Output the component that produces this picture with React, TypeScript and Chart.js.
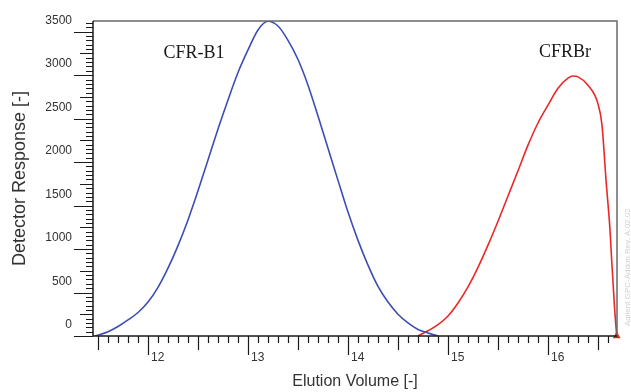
import React, { useEffect, useRef } from 'react';
import { Chart, registerables } from 'chart.js';

Chart.register(...registerables);

// ---- axis ranges & tick labels ----
const X_MIN = 11.45;
const X_MAX = 16.69;
const Y_MIN = 0;
const Y_MAX = 3623;
const xTickLabels = [12, 13, 14, 15, 16];
const yTickLabels = [0, 500, 1000, 1500, 2000, 2500, 3000, 3500];

// ---- series: CFR-B1 (blue) ----
const blueX = [11.47, 11.6, 11.7, 11.8, 11.9, 12.0, 12.1, 12.2, 12.3, 12.4, 12.5, 12.6, 12.7, 12.8, 12.9, 13.0, 13.1, 13.2, 13.3, 13.4, 13.5, 13.6, 13.7, 13.8, 13.9, 14.0, 14.1, 14.2, 14.3, 14.4, 14.5, 14.6, 14.7, 14.8, 14.9];
const blueY = [0, 50, 110, 185, 270, 390, 560, 780, 1040, 1335, 1670, 2025, 2380, 2715, 3030, 3290, 3520, 3620, 3565, 3400, 3180, 2885, 2530, 2160, 1790, 1425, 1100, 815, 570, 390, 250, 150, 75, 35, 0];

// ---- series: CFRBr (red) ----
const redX = [14.7, 14.8, 14.9, 15.0, 15.1, 15.2, 15.3, 15.4, 15.5, 15.6, 15.7, 15.8, 15.9, 16.0, 16.1, 16.2, 16.25, 16.3, 16.4, 16.5, 16.54, 16.58, 16.62, 16.635, 16.665, 16.687];
const redY = [0, 60, 130, 230, 380, 565, 790, 1045, 1320, 1610, 1900, 2195, 2450, 2655, 2850, 2965, 2990, 2980, 2885, 2670, 2425, 1795, 1220, 910, 335, 0];

// ---- peak annotations ----
const peakNames = ['CFR-B1', 'CFRBr'];
const peakNameX = [12.46, 16.17];
const peakNameY = [3195, 3205];

const xTitle = 'Elution Volume [-]';
const yTitle = 'Detector Response [-]';
const watermark = 'Agilent GPC-Addon Rev. A.02.02';

const SANS = 'Arial, "Liberation Sans", sans-serif';
const SERIF = '"Times New Roman", "Liberation Serif", serif';

const framePlugin = {
  id: 'frame',
  afterDatasetsDraw(chart: any) {
    const { ctx, chartArea } = chart;
    const xs = chart.scales.x;
    const ys = chart.scales.y;
    const { left, right, top, bottom } = chartArea;
    ctx.save();
    // grey border (top/right)
    ctx.strokeStyle = '#6a6a6a';
    ctx.lineWidth = 1.5;
    ctx.beginPath();
    ctx.moveTo(left, top);
    ctx.lineTo(right, top);
    ctx.lineTo(right, bottom);
    ctx.stroke();
    // black axes
    ctx.strokeStyle = '#1a1a1a';
    ctx.lineWidth = 1.5;
    ctx.beginPath();
    ctx.moveTo(left, top);
    ctx.lineTo(left, bottom);
    ctx.lineTo(right, bottom);
    ctx.stroke();
    // y tick marks every 50
    ctx.lineWidth = 1.2;
    ctx.beginPath();
    for (let i = 0; i * 50 <= Y_MAX; i++) {
      const v = i * 50;
      const len = v % 500 === 0 ? 19 : v % 250 === 0 ? 13 : 7;
      const py = Math.round(ys.getPixelForValue(v)) + 0.5;
      ctx.moveTo(left - len, py);
      ctx.lineTo(left, py);
    }
    // x tick marks every 0.1
    for (let i = Math.ceil(X_MIN * 10); i / 10 <= X_MAX; i++) {
      const len = i % 10 === 0 ? 19 : i % 5 === 0 ? 14 : 7;
      const px = Math.round(xs.getPixelForValue(i / 10)) + 0.5;
      ctx.moveTo(px, bottom);
      ctx.lineTo(px, bottom + len);
    }
    ctx.stroke();
    // peak names
    ctx.fillStyle = '#1a1a1a';
    ctx.font = '18px ' + SERIF;
    ctx.textAlign = 'center';
    ctx.textBaseline = 'alphabetic';
    peakNames.forEach((name, i) => {
      ctx.fillText(name, xs.getPixelForValue(peakNameX[i]), ys.getPixelForValue(peakNameY[i]));
    });
    // faint watermark
    ctx.translate(right + 11, bottom - 10);
    ctx.rotate(-Math.PI / 2);
    ctx.fillStyle = '#d0d0d0';
    ctx.font = '8px ' + SANS;
    ctx.textAlign = 'left';
    ctx.textBaseline = 'middle';
    ctx.fillText(watermark, 0, 0);
    ctx.restore();
  },
};

const noPad = (s: any) => {
  s.paddingTop = 0;
  s.paddingBottom = 0;
  s.paddingLeft = 0;
  s.paddingRight = 0;
};

export default function App() {
  const ref = useRef<HTMLCanvasElement | null>(null);
  useEffect(() => {
    if (!ref.current) return;
    const chart = new Chart(ref.current, {
      type: 'line',
      data: {
        datasets: [
          {
            label: 'CFR-B1',
            data: blueX.map((x, i) => ({ x, y: blueY[i] })),
            borderColor: 'rgb(60, 78, 180)',
            borderWidth: 1.6,
            pointRadius: 0,
            cubicInterpolationMode: 'monotone',
            fill: false,
          },
          {
            label: 'CFRBr',
            data: redX.map((x, i) => ({ x, y: redY[i] })),
            borderColor: 'rgb(235, 40, 40)',
            backgroundColor: 'rgb(235, 40, 40)',
            borderWidth: 1.6,
            pointRadius: redX.map((_, i) => (i === redX.length - 1 ? 4.5 : 0)),
            pointStyle: 'triangle',
            pointBorderWidth: 0,
            pointBackgroundColor: 'rgb(235, 30, 30)',
            cubicInterpolationMode: 'monotone',
            fill: false,
            clip: false,
          },
        ],
      },
      options: {
        responsive: false,
        animation: false,
        devicePixelRatio: 1,
        layout: { padding: { left: 0, right: 14, top: 21, bottom: 0 } },
        plugins: { legend: { display: false }, tooltip: { enabled: false } },
        scales: {
          x: {
            type: 'linear',
            min: X_MIN,
            max: X_MAX,
            afterBuildTicks: (s: any) => {
              s.ticks = xTickLabels.map((v) => ({ value: v }));
            },
            afterFit: (s: any) => {
              s.height = 56;
              noPad(s);
            },
            grid: { display: false, drawTicks: false },
            border: { display: false },
            ticks: {
              align: 'start',
              labelOffset: 3,
              padding: 14,
              color: '#333',
              font: { family: SANS, size: 12 },
              maxRotation: 0,
              autoSkip: false,
              callback: (v: any) => String(v),
            },
            title: {
              display: true,
              text: xTitle,
              color: '#333',
              font: { family: SANS, size: 16 },
              padding: { top: 0, bottom: 1 },
            },
          },
          y: {
            type: 'linear',
            min: Y_MIN,
            max: Y_MAX,
            afterBuildTicks: (s: any) => {
              s.ticks = yTickLabels.map((v) => ({ value: v }));
            },
            afterFit: (s: any) => {
              s.width = 93;
              noPad(s);
            },
            grid: { display: false, drawTicks: false },
            border: { display: false },
            ticks: {
              padding: 21,
              labelOffset: -11,
              color: '#333',
              font: { family: SANS, size: 12 },
              autoSkip: false,
              callback: (v: any) => String(v),
            },
            title: {
              display: true,
              text: yTitle,
              color: '#333',
              font: { family: SANS, size: 18 },
              padding: { top: 9, bottom: 0 },
            },
          },
        },
      },
      plugins: [framePlugin],
    } as any);
    return () => chart.destroy();
  }, []);
  return (
    <div style={{ position: 'fixed', left: 0, top: 0, width: 631, height: 392, background: '#fff' }}>
      <canvas ref={ref} width={631} height={392} style={{ display: 'block' }} />
    </div>
  );
}
